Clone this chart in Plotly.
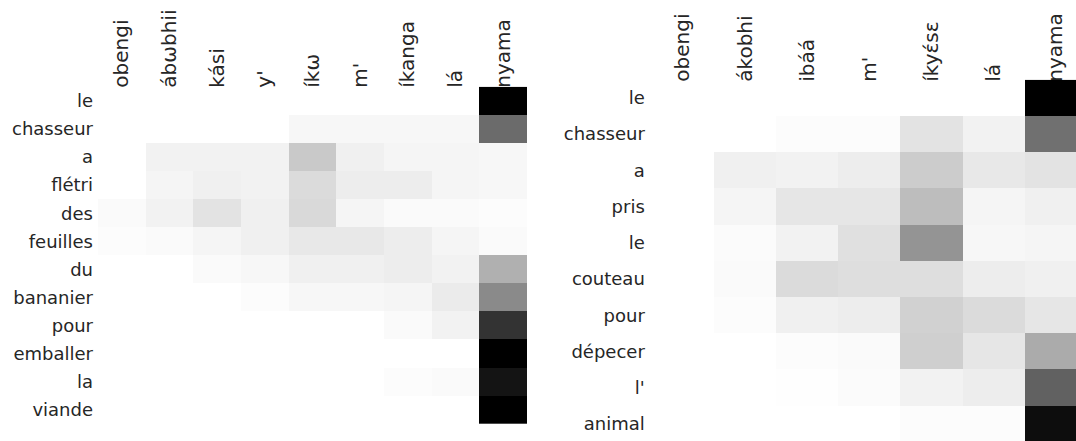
import plotly.graph_objects as go

# Attention weights: French source words (rows) vs. target words (columns)
left_cols = ["obengi", "ábωbhii", "kási", "y'", "íkω", "m'", "íkanga", "lá", "nyama"]
left_rows = ["le", "chasseur", "a", "flétri", "des", "feuilles", "du", "bananier",
             "pour", "emballer", "la", "viande"]
left_weights = [
    [0.00, 0.00, 0.00, 0.00, 0.00, 0.00, 0.00, 0.00, 1.00],
    [0.00, 0.00, 0.00, 0.00, 0.03, 0.03, 0.03, 0.03, 0.58],
    [0.00, 0.05, 0.05, 0.05, 0.21, 0.06, 0.04, 0.04, 0.03],
    [0.00, 0.04, 0.06, 0.05, 0.14, 0.07, 0.07, 0.04, 0.03],
    [0.02, 0.05, 0.11, 0.06, 0.15, 0.04, 0.02, 0.02, 0.01],
    [0.01, 0.02, 0.04, 0.06, 0.09, 0.09, 0.07, 0.04, 0.02],
    [0.00, 0.00, 0.02, 0.03, 0.06, 0.06, 0.07, 0.05, 0.31],
    [0.00, 0.00, 0.00, 0.01, 0.03, 0.03, 0.04, 0.08, 0.46],
    [0.00, 0.00, 0.00, 0.00, 0.00, 0.00, 0.02, 0.05, 0.80],
    [0.00, 0.00, 0.00, 0.00, 0.00, 0.00, 0.00, 0.00, 1.00],
    [0.00, 0.00, 0.00, 0.00, 0.00, 0.00, 0.01, 0.02, 0.92],
    [0.00, 0.00, 0.00, 0.00, 0.00, 0.00, 0.00, 0.00, 1.00],
]

right_cols = ["obengi", "ákobhi", "ibáá", "m'", "íkyɛ́sɛ", "lá", "nyama"]
right_rows = ["le", "chasseur", "a", "pris", "le", "couteau", "pour", "dépecer",
              "l'", "animal"]
right_weights = [
    [0.00, 0.00, 0.00, 0.00, 0.00, 0.00, 1.00],
    [0.00, 0.00, 0.01, 0.01, 0.11, 0.05, 0.56],
    [0.00, 0.06, 0.05, 0.07, 0.20, 0.09, 0.11],
    [0.00, 0.04, 0.10, 0.10, 0.26, 0.04, 0.06],
    [0.00, 0.015, 0.05, 0.12, 0.42, 0.03, 0.04],
    [0.00, 0.02, 0.14, 0.13, 0.13, 0.07, 0.06],
    [0.00, 0.01, 0.06, 0.07, 0.18, 0.14, 0.10],
    [0.00, 0.00, 0.01, 0.02, 0.19, 0.10, 0.33],
    [0.00, 0.00, 0.005, 0.015, 0.05, 0.07, 0.62],
    [0.00, 0.00, 0.00, 0.00, 0.01, 0.01, 0.95],
]

W, H = 1076, 441
ROW_FONT = dict(family="DejaVu Sans", size=18, color="#262626")
COL_FONT = dict(family="DejaVu Sans", size=20, color="#262626")
greys = [[0, "#ffffff"], [1, "#000000"]]

fig = go.Figure()
fig.add_trace(go.Heatmap(
    z=left_weights, x=list(range(len(left_cols))), y=list(range(len(left_rows))),
    colorscale=greys, zmin=0, zmax=1, showscale=False, xaxis="x", yaxis="y",
))
fig.add_trace(go.Heatmap(
    z=right_weights, x=list(range(len(right_cols))), y=list(range(len(right_rows))),
    colorscale=greys, zmin=0, zmax=1, showscale=False, xaxis="x2", yaxis="y2",
))

common = dict(showgrid=False, zeroline=False, showline=False, ticks="",
              tickmode="array")

fig.update_layout(
    width=W, height=H, margin=dict(l=0, r=0, t=0, b=0),
    paper_bgcolor="white", plot_bgcolor="white",
    xaxis=dict(domain=[98 / W, 527 / W], anchor="y", side="top",
               range=[-0.5, len(left_cols) - 0.5],
               tickvals=list(range(len(left_cols))), ticktext=left_cols,
               tickangle=-90, ticklabelstandoff=-2, tickfont=COL_FONT, **common),
    yaxis=dict(domain=[(H - 424) / H, (H - 86.7) / H], anchor="x",
               range=[len(left_rows) - 0.5, -0.5],
               tickvals=list(range(len(left_rows))), ticktext=left_rows,
               ticklabelstandoff=4, tickfont=ROW_FONT, **common),
    xaxis2=dict(domain=[651.8 / W, 1.0], anchor="y2", side="top",
                range=[-0.5, len(right_cols) - 0.5 - 11 / 62.2],
                tickvals=list(range(len(right_cols))), ticktext=right_cols,
                tickangle=-90, ticklabelstandoff=-3, tickfont=COL_FONT, **common),
    yaxis2=dict(domain=[0.0, (H - 79.7) / H], anchor="x2",
                range=[len(right_rows) - 0.5 - 1 / 36.3, -0.5],
                tickvals=list(range(len(right_rows))), ticktext=right_rows,
                ticklabelstandoff=6, tickfont=ROW_FONT, **common),
)

fig.write_html("out.html")
